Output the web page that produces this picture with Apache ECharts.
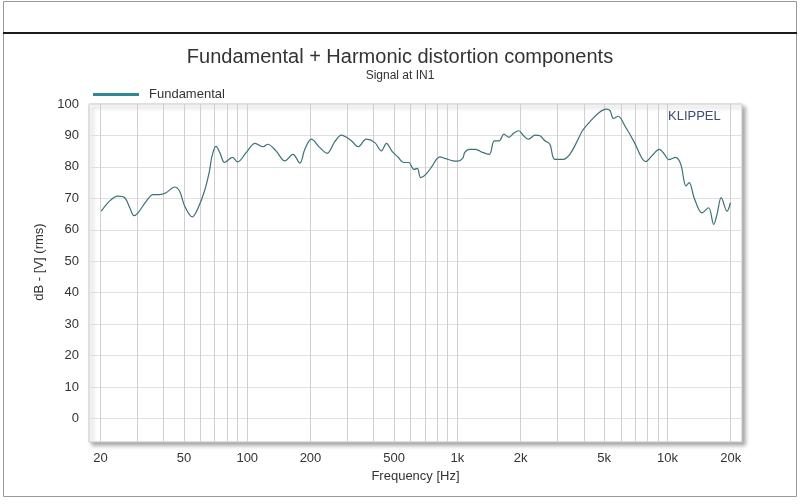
<!DOCTYPE html>
<html>
<head>
<meta charset="utf-8">
<script src="https://cdn.jsdelivr.net/npm/echarts@6/dist/echarts.min.js"></script>
<style>
  html, body { margin: 0; padding: 0; background: #fff; }
  #chart { width: 800px; height: 504px; }
</style>
</head>
<body>
<div id="chart"></div>
<script>
// frequency response
const freqHz = [
  20.2, 22.1, 24.2, 26.1, 27.6, 28.9, 30.2, 33.1, 35.6, 38.2, 41.1, 45.1, 47.6, 50.4,
  54.7, 58.4, 62.7, 66, 68, 71, 74, 78, 85, 90, 99, 109, 119, 125, 137, 151, 165, 178,
  188, 202, 221, 240, 261, 281, 297, 313, 337, 369, 404, 435, 460, 487, 524, 555, 587,
  621, 645, 669, 708, 760, 795, 826, 872, 954, 1003, 1060, 1085, 1140, 1223, 1318, 1420,
  1499, 1580, 1666, 1759, 1855, 1960, 2068, 2182, 2345, 2474, 2612, 2756, 2908, 3193,
  3432, 3695, 3940, 4320, 4750, 5130, 5330, 5540, 5820, 6330, 6960, 7530, 7890, 8430,
  9150, 9680, 10150, 10950, 11580, 12260, 12700, 13400, 14610, 15700, 16610, 17220,
  18040, 19210, 19950
]
const levelDb = [
  65.9, 69.1, 70.7, 70.2, 67.0, 64.5, 65.4, 69.1, 71.2, 71.2, 71.8, 73.6, 72.3, 67.5,
  64.1, 67.0, 72.5, 78.5, 83.5, 86.5, 84.6, 81.4, 83.0, 81.6, 84.6, 87.5, 86.4, 87.2, 85.1, 81.9, 84.0, 81.2,
  85.6, 88.8, 86.2, 84.3, 88.0, 90.1, 89.4, 88.3, 86.4, 88.8, 87.8, 85.1, 87.5, 85.1, 83.0, 81.4, 81.4,
  79.2, 79.5, 76.6, 77.6, 80.3, 82.4, 83.2, 82.7, 81.9, 81.8, 82.7, 84.6, 85.6, 85.6, 84.6, 84.0,
  88.3, 88.3, 90.4, 89.4, 90.7, 91.5, 89.9, 88.8, 90.1, 89.9, 88.3, 87.2, 82.4, 82.4,
  84.0, 87.8, 91.5, 94.7, 97.4, 98.4, 97.9, 95.4, 96.1, 92.6, 87.8, 83.0, 81.7, 83.5,
  85.6, 84.0, 82.3, 83.0, 80.8, 73.9, 75.0, 70.2, 65.4, 67.0, 61.7, 64.9,
  70.2, 65.9, 68.6
]

// axis ticks
const freqLabels = [20, 50, 100, 200, 500, 1000, 2000, 5000, 10000, 20000]
const freqGrid = [
  20, 30, 40, 50, 60, 70, 80, 90,
  100, 200, 300, 400, 500, 600, 700, 800, 900,
  1000, 2000, 3000, 4000, 5000, 6000, 7000, 8000, 9000,
  10000, 20000
]
const dbTicks = [0, 10, 20, 30, 40, 50, 60, 70, 80, 90, 100]
const freqRange = [17.65, 22650]
const dbRange = [-7.5, 100]

const FONT = 'Liberation Sans, Arial, sans-serif'
const TEXT = '#333'

const chart = echarts.init(document.getElementById('chart'))

chart.setOption({
  backgroundColor: '#fff',
  animation: false,
  title: {
    text: 'Fundamental + Harmonic distortion components',
    subtext: 'Signal at IN1',
    left: 'center',
    top: 42,
    itemGap: 3,
    textStyle: { fontFamily: FONT, fontSize: 20, fontWeight: 'normal', color: TEXT },
    subtextStyle: { fontFamily: FONT, fontSize: 12, color: TEXT }
  },
  legend: {
    left: 88,
    top: 83,
    icon: 'rect',
    itemWidth: 46,
    itemHeight: 3,
    textStyle: { fontFamily: FONT, fontSize: 13, color: TEXT, padding: [0, 0, 0, 5] },
    data: ['Fundamental']
  },
  grid: {
    show: true,
    left: 89,
    right: 58,
    top: 104,
    bottom: 62,
    backgroundColor: '#fff',
    borderColor: '#c8c8c8',
    borderWidth: 1,
    shadowColor: 'rgba(0,0,0,0.35)',
    shadowBlur: 4,
    shadowOffsetX: 3,
    shadowOffsetY: 3
  },
  xAxis: {
    type: 'value',
    min: Math.log10(freqRange[0]),
    max: Math.log10(freqRange[1]),
    name: 'Frequency [Hz]',
    nameLocation: 'middle',
    nameGap: 24,
    nameTextStyle: { fontFamily: FONT, fontSize: 13, color: TEXT },
    axisLine: { show: false },
    axisTick: { show: false, customValues: freqGrid.map(Math.log10) },
    axisLabel: {
      customValues: freqLabels.map(Math.log10),
      margin: 10,
      fontFamily: FONT,
      fontSize: 13,
      color: TEXT,
      formatter: v => {
        const f = Math.round(Math.pow(10, v))
        return f >= 1000 ? f / 1000 + 'k' : String(f)
      }
    },
    splitLine: { show: true, lineStyle: { color: '#cfcfcf', width: 1 } }
  },
  yAxis: {
    type: 'value',
    min: dbRange[0],
    max: dbRange[1],
    name: 'dB - [V] (rms)',
    nameLocation: 'middle',
    nameGap: 38,
    nameTextStyle: { fontFamily: FONT, fontSize: 13, color: TEXT, padding: [0, 0, 0, 22] },
    axisLine: { show: false },
    axisTick: { show: false, customValues: dbTicks },
    axisLabel: { customValues: dbTicks, margin: 10, fontFamily: FONT, fontSize: 13, color: TEXT },
    splitLine: { show: true, lineStyle: { color: '#e0e0e0', width: 1 } }
  },
  graphic: [
    { type: 'rect', shape: { x: 3.5, y: 1.5, width: 793, height: 495 }, style: { fill: 'none', stroke: '#999', lineWidth: 1 }, silent: true },
    { type: 'line', shape: { x1: 3, y1: 33, x2: 797, y2: 33 }, style: { stroke: '#1a1a1a', lineWidth: 2 }, silent: true },
    { type: 'text', x: 668, y: 110, style: { text: 'KLIPPEL', font: '13px ' + FONT, fill: '#3d4c75' }, z: 10, silent: true }
  ],
  series: [{
    name: 'Fundamental',
    type: 'line',
    data: freqHz.map((f, i) => [Math.log10(f), levelDb[i]]),
    showSymbol: false,
    smooth: 0.35,
    color: '#2f8990',
    lineStyle: { color: '#3b7178', width: 1.2 }
  }]
})
</script>
</body>
</html>
